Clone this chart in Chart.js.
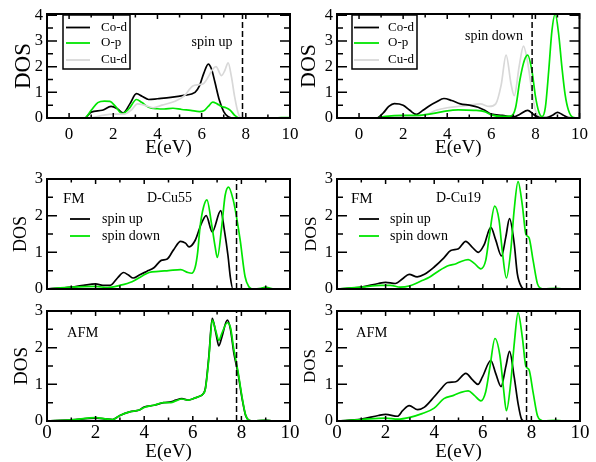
<!DOCTYPE html>
<html>
<head>
<meta charset="utf-8">
<script src="https://cdn.jsdelivr.net/npm/chart.js@4.4.0/dist/chart.umd.min.js"></script>
<style>
html, body { margin: 0; padding: 0; background: #fff; }
#wrap { position: relative; width: 596px; height: 462px; }
#wrap canvas { position: absolute; left: 0; top: 0; }
</style>
</head>
<body>
<div id="wrap">
  <canvas id="p1" width="596" height="462"></canvas>
  <canvas id="p2" width="596" height="462"></canvas>
  <canvas id="p3" width="596" height="462"></canvas>
  <canvas id="p4" width="596" height="462"></canvas>
  <canvas id="p5" width="596" height="462"></canvas>
  <canvas id="p6" width="596" height="462"></canvas>
</div>
<script>
// tick labels
const xTickLabels = [0, 2, 4, 6, 8, 10];
const xMinorTicks = [1, 3, 5, 7, 9];
const yTickLabelsTop = [0, 1, 2, 3, 4];
const yMinorTop = [0.5, 1.5, 2.5, 3.5];
const yTickLabels = [0, 1, 2, 3];
const yMinor = [0.5, 1.5, 2.5];

// Fermi level (dashed line)
const fermiTop = 7.85;
const fermiBottom = 7.8;

// spin up, projected DOS
const upCoE = [0, 0.7, 1.0, 1.5, 1.9, 2.2, 2.45, 2.75, 3.05, 3.3, 3.6, 4.0, 4.6, 5.2, 5.7, 5.9, 6.1, 6.3, 6.45, 6.6, 6.8, 7.0, 7.2, 7.4, 10];
const upCo = [0, 0, 0.23, 0.3, 0.45, 0.35, 0.2, 0.55, 0.95, 0.85, 0.72, 0.75, 0.8, 0.88, 1.0, 1.25, 1.75, 2.1, 1.9, 1.4, 0.7, 0.25, 0.05, 0, 0];
const upOpE = [0, 0.7, 1.0, 1.3, 1.6, 1.85, 2.1, 2.4, 2.7, 3.05, 3.3, 3.6, 4.0, 4.3, 4.7, 5.1, 5.5, 5.9, 6.1, 6.3, 6.5, 6.7, 6.9, 7.1, 7.3, 7.5, 7.7, 9.3, 9.6, 10];
const upOp = [0, 0, 0.3, 0.6, 0.66, 0.65, 0.45, 0.17, 0.35, 0.72, 0.6, 0.42, 0.36, 0.35, 0.38, 0.33, 0.3, 0.25, 0.28, 0.45, 0.62, 0.55, 0.45, 0.4, 0.3, 0.1, 0, 0, 0.02, 0.02];
const upCuE = [0, 0.9, 1.5, 2.0, 2.5, 2.8, 3.1, 3.4, 3.8, 4.2, 4.8, 5.2, 5.6, 5.9, 6.1, 6.3, 6.5, 6.65, 6.9, 7.05, 7.2, 7.35, 7.5, 7.65, 7.8, 10];
const upCu = [0, 0, 0.1, 0.15, 0.15, 0.3, 0.55, 0.5, 0.4, 0.5, 0.65, 0.85, 1.25, 1.3, 1.35, 1.6, 1.9, 2.0, 1.65, 1.85, 2.15, 1.6, 0.8, 0.2, 0, 0];

// spin down, projected DOS
const dnCoE = [0, 0.8, 1.1, 1.35, 1.6, 2.0, 2.3, 2.6, 2.9, 3.2, 3.5, 3.85, 4.2, 4.6, 5.0, 5.4, 5.7, 6.0, 6.5, 7.0, 7.3, 7.65, 7.9, 8.2, 8.5, 8.8, 9.0, 9.25, 9.5, 10];
const dnCo = [0, 0, 0.2, 0.45, 0.56, 0.5, 0.3, 0.14, 0.3, 0.48, 0.62, 0.76, 0.68, 0.55, 0.5, 0.42, 0.3, 0.15, 0.1, 0.04, 0.15, 0.3, 0.15, 0.02, 0.02, 0.12, 0.22, 0.12, 0.02, 0];
const dnOpE = [0, 0.8, 1.2, 2.0, 2.6, 3.2, 3.8, 4.5, 5.2, 5.7, 6.0, 6.5, 6.9, 7.1, 7.3, 7.5, 7.65, 7.85, 8.0, 8.15, 8.3, 8.45, 8.6, 8.75, 8.9, 9.05, 9.2, 9.35, 9.5, 9.7, 10];
const dnOp = [0, 0, 0.06, 0.1, 0.1, 0.15, 0.25, 0.32, 0.3, 0.25, 0.12, 0.06, 0.08, 0.4, 1.5, 2.25, 2.45, 1.8, 0.85, 0.25, 0.05, 0.4, 1.8, 3.4, 4.05, 3.3, 2.0, 0.9, 0.3, 0.03, 0];
const dnCuE = [0, 1.0, 2.0, 3.0, 3.5, 4.0, 4.5, 5.0, 5.5, 5.9, 6.2, 6.45, 6.67, 6.9, 7.04, 7.27, 7.46, 7.64, 7.85, 8.0, 8.2, 8.4, 10];
const dnCu = [0, 0, 0.05, 0.12, 0.3, 0.4, 0.45, 0.5, 0.55, 0.45, 0.55, 1.3, 2.45, 1.3, 0.87, 2.05, 2.8, 2.2, 1.0, 0.3, 0.03, 0, 0];

// FM, D-Cu55
const cu55UpE = [0, 1.0, 1.5, 2.0, 2.3, 2.6, 2.9, 3.15, 3.35, 3.55, 3.8, 4.1, 4.4, 4.7, 4.95, 5.2, 5.5, 5.7, 5.85, 6.1, 6.35, 6.55, 6.8, 7.15, 7.3, 7.45, 7.55, 7.65, 10];
const cu55Up = [0, 0.05, 0.1, 0.14, 0.1, 0.1, 0.3, 0.45, 0.38, 0.3, 0.38, 0.48, 0.58, 0.78, 0.82, 1.06, 1.3, 1.25, 1.15, 1.33, 1.78, 2.0, 1.56, 2.14, 1.6, 0.9, 0.3, 0, 0];
const cu55DnE = [0, 1.0, 2.0, 2.5, 3.0, 3.5, 3.9, 4.2, 4.6, 5.0, 5.5, 5.8, 5.95, 6.1, 6.2, 6.3, 6.44, 6.58, 6.78, 6.92, 7.01, 7.19, 7.33, 7.47, 7.67, 7.8, 7.95, 8.15, 8.3, 8.5, 8.8, 9.0, 9.2, 9.4, 10];
const cu55Dn = [0, 0.05, 0.07, 0.04, 0.1, 0.2, 0.35, 0.45, 0.48, 0.5, 0.53, 0.45, 0.43, 0.6, 1.0, 1.7, 2.23, 2.43, 1.74, 1.15, 0.86, 1.7, 2.55, 2.78, 2.41, 1.96, 1.33, 0.34, 0.07, 0, 0.02, 0.05, 0.02, 0, 0];

// FM, D-Cu19
const cu19UpE = [0, 1.0, 1.7, 2.0, 2.4, 2.7, 2.97, 3.3, 3.6, 4.0, 4.4, 4.68, 5.0, 5.3, 5.55, 5.82, 6.05, 6.33, 6.53, 6.77, 6.95, 7.1, 7.29, 7.42, 7.6, 7.7, 10];
const cu19Up = [0, 0.05, 0.15, 0.18, 0.15, 0.28, 0.4, 0.33, 0.4, 0.6, 0.85, 1.05, 1.1, 1.3, 1.15, 1.0, 1.2, 1.68, 1.34, 0.9, 1.43, 1.92, 1.25, 0.42, 0.05, 0, 0];
const cu19DnE = [0, 1.0, 1.8, 2.2, 2.6, 3.0, 3.5, 3.8, 4.2, 4.6, 4.9, 5.1, 5.4, 5.65, 5.92, 6.12, 6.26, 6.49, 6.67, 6.8, 6.97, 7.15, 7.29, 7.45, 7.63, 7.77, 7.9, 8.07, 8.25, 8.38, 8.5, 9.0, 9.3, 10];
const cu19Dn = [0, 0.05, 0.1, 0.1, 0.05, 0.09, 0.23, 0.32, 0.5, 0.64, 0.69, 0.75, 0.8, 0.7, 0.55, 0.78, 1.4, 2.26, 1.87, 1.05, 0.3, 1.05, 2.15, 2.93, 2.27, 1.5, 1.4, 0.78, 0.14, 0.02, 0, 0.02, 0, 0];

// AFM, D-Cu55
const afm55E = [0, 1.0, 2.0, 2.4, 2.7, 3.0, 3.4, 3.8, 4.0, 4.4, 4.8, 5.1, 5.3, 5.55, 5.8, 6.1, 6.3, 6.4, 6.52, 6.66, 6.8, 6.95, 7.07, 7.2, 7.42, 7.55, 7.69, 7.86, 8.04, 8.17, 8.31, 8.5, 9.0, 9.3, 10];
const afm55Up = [0, 0.03, 0.08, 0.06, 0.04, 0.15, 0.25, 0.3, 0.38, 0.43, 0.5, 0.52, 0.57, 0.61, 0.57, 0.63, 0.68, 0.72, 0.9, 1.76, 2.8, 2.4, 2.05, 2.3, 2.75, 2.5, 1.85, 1.3, 0.57, 0.16, 0.02, 0, 0.02, 0, 0];
const afm55Dn = [0, 0.03, 0.09, 0.06, 0.04, 0.15, 0.25, 0.3, 0.37, 0.43, 0.5, 0.5, 0.55, 0.6, 0.57, 0.63, 0.68, 0.72, 0.88, 1.7, 2.75, 2.45, 2.2, 2.4, 2.68, 2.55, 1.95, 1.35, 0.6, 0.17, 0.02, 0, 0.02, 0, 0];

// AFM, D-Cu19
const afm19UpE = [0, 1.0, 1.7, 2.0, 2.49, 2.7, 2.97, 3.32, 3.6, 4.0, 4.3, 4.55, 4.89, 5.3, 5.58, 5.8, 5.99, 6.33, 6.53, 6.75, 6.95, 7.1, 7.29, 7.45, 7.6, 7.7, 10];
const afm19Up = [0, 0.05, 0.15, 0.18, 0.13, 0.28, 0.42, 0.31, 0.38, 0.66, 0.89, 1.05, 1.07, 1.3, 1.12, 1.0, 1.21, 1.65, 1.3, 0.94, 1.49, 1.9, 1.21, 0.48, 0.04, 0, 0];
const afm19DnE = [0, 1.0, 2.0, 2.5, 3.0, 3.5, 4.0, 4.4, 4.8, 5.1, 5.4, 5.65, 5.92, 6.12, 6.3, 6.5, 6.7, 6.85, 6.97, 7.15, 7.3, 7.45, 7.63, 7.77, 7.9, 8.07, 8.25, 8.4, 8.5, 9.0, 9.3, 10];
const afm19Dn = [0, 0.04, 0.08, 0.05, 0.1, 0.2, 0.35, 0.61, 0.7, 0.78, 0.82, 0.7, 0.55, 0.8, 1.5, 2.25, 1.8, 0.9, 0.28, 1.05, 2.15, 2.95, 2.27, 1.5, 1.4, 0.78, 0.14, 0.02, 0, 0.02, 0, 0];

const SERIF = "'Liberation Serif', 'Times New Roman', serif";
const GREEN = '#00e600';
const GRAY = '#d8d8d8';

const pts = (xs, ys) => xs.map((x, i) => ({ x: x, y: ys[i] }));

const curve = (xs, ys, color, order) => ({
    data: pts(xs, ys),
    borderColor: color,
    borderWidth: 1.7,
    pointRadius: 0,
    showLine: true,
    cubicInterpolationMode: 'monotone',
    order: order
});

const fermiLine = (e, top) => ({
    data: [{ x: e, y: 0 }, { x: e, y: top }],
    borderColor: '#000',
    borderWidth: 1.5,
    borderDash: [6, 3],
    pointRadius: 0,
    showLine: true,
    order: 0
});

// frame, inward ticks, labels and legend, xmgrace style
const frameTicks = {
    id: 'frameTicks',
    afterDatasetsDraw(chart, args, o) {
        const ctx = chart.ctx;
        const a = chart.chartArea;
        const x = chart.scales.x, y = chart.scales.y;
        ctx.save();
        ctx.strokeStyle = '#000';
        ctx.lineWidth = 1.5;
        ctx.beginPath();
        const xt = (vals, len) => vals.forEach(v => {
            const px = x.getPixelForValue(v);
            ctx.moveTo(px, a.bottom); ctx.lineTo(px, a.bottom - len);
            ctx.moveTo(px, a.top); ctx.lineTo(px, a.top + len);
        });
        const yt = (vals, len) => vals.forEach(v => {
            const py = y.getPixelForValue(v);
            ctx.moveTo(a.left, py); ctx.lineTo(a.left + len, py);
            ctx.moveTo(a.right, py); ctx.lineTo(a.right - len, py);
        });
        xt(xTickLabels, 5);
        xt(xMinorTicks, 3.5);
        yt(o.yMajor, 10);
        yt(o.yMinor, 6);
        ctx.stroke();
        ctx.lineWidth = 2;
        ctx.strokeRect(a.left, a.top, a.right - a.left, a.bottom - a.top);

        ctx.fillStyle = '#000';
        ctx.textBaseline = 'middle';
        (o.texts || []).forEach(t => {
            ctx.font = t.size + 'px ' + SERIF;
            ctx.textAlign = t.align || 'left';
            ctx.fillText(t.text, t.x, t.y);
        });
        if (o.legend) {
            const L = o.legend;
            if (L.box) {
                ctx.lineWidth = 1.5;
                ctx.strokeStyle = '#000';
                ctx.strokeRect(L.box[0], L.box[1], L.box[2], L.box[3]);
            }
            L.items.forEach(it => {
                ctx.strokeStyle = it.color;
                ctx.lineWidth = 1.8;
                ctx.beginPath();
                ctx.moveTo(L.x1, it.y);
                ctx.lineTo(L.x2, it.y);
                ctx.stroke();
                ctx.font = L.size + 'px ' + SERIF;
                ctx.textAlign = 'left';
                ctx.fillStyle = '#000';
                ctx.fillText(it.label, L.tx, it.y);
            });
        }
        ctx.restore();
    }
};

function makePanel(id, p) {
    const [l, t, r, b] = p.box;
    const padLeft = p.yTitleX - p.yTitleSize / 2;
    return new Chart(document.getElementById(id), {
        type: 'scatter',
        data: { datasets: p.datasets },
        options: {
            responsive: false,
            animation: false,
            events: [],
            layout: { padding: { left: padLeft, top: t, right: 596 - r, bottom: 462 - b - p.xH } },
            scales: {
                x: {
                    type: 'linear', min: p.xMin, max: 10,
                    grid: { display: false, drawTicks: false },
                    border: { display: false },
                    afterBuildTicks: s => { s.ticks = xTickLabels.map(v => ({ value: v })); },
                    afterFit: s => { s.height = p.xH; },
                    ticks: { display: p.showX, padding: p.xPad, color: '#000', maxRotation: 0, autoSkip: false,
                             font: { family: SERIF, size: p.xTickSize, lineHeight: 1 } },
                    title: { display: p.showX, text: 'E(eV)', padding: 0, color: '#000',
                             font: { family: SERIF, size: 19, lineHeight: 1 } }
                },
                y: {
                    type: 'linear', min: 0, max: p.yMax,
                    grid: { display: false, drawTicks: false },
                    border: { display: false },
                    afterBuildTicks: s => { s.ticks = p.yMajor.map(v => ({ value: v })); },
                    afterFit: s => { s.width = l - padLeft; },
                    ticks: { padding: 4, color: '#000', autoSkip: false,
                             font: { family: SERIF, size: 16.5, lineHeight: 1 } },
                    title: { display: true, text: 'DOS', padding: 0, color: '#000',
                             font: { family: SERIF, size: p.yTitleSize, lineHeight: 1 } }
                }
            },
            plugins: {
                legend: { display: false },
                tooltip: { enabled: false },
                frameTicks: { yMajor: p.yMajor, yMinor: p.yMinor, texts: p.texts, legend: p.legend }
            }
        },
        plugins: [frameTicks]
    });
}

makePanel('p1', {
    box: [47, 14, 290, 118], xMin: -1, yMax: 4.05, yMajor: yTickLabelsTop, yMinor: yMinorTop,
    showX: true, xH: 40, xTickSize: 17, xPad: 8, yTitleSize: 23, yTitleX: 23.5,
    datasets: [curve(upCuE, upCu, GRAY, 1), curve(upOpE, upOp, GREEN, 2), curve(upCoE, upCo, '#000', 3), fermiLine(fermiTop, 4.05)],
    texts: [{ text: 'spin up', x: 212, y: 42, size: 14, align: 'center' }],
    legend: { box: [63, 15, 67, 54], x1: 66, x2: 90, tx: 101, size: 13,
              items: [{ label: 'Co-d', color: '#000', y: 27.5 }, { label: 'O-p', color: GREEN, y: 43 }, { label: 'Cu-d', color: GRAY, y: 60 }] }
});

makePanel('p2', {
    box: [337, 14, 580, 118], xMin: -1, yMax: 4.05, yMajor: yTickLabelsTop, yMinor: yMinorTop,
    showX: true, xH: 40, xTickSize: 17, xPad: 8, yTitleSize: 22, yTitleX: 309.5,
    datasets: [curve(dnCuE, dnCu, GRAY, 3), curve(dnOpE, dnOp, GREEN, 1), curve(dnCoE, dnCo, '#000', 2), fermiLine(fermiTop, 4.05)],
    texts: [{ text: 'spin down', x: 494, y: 36, size: 14, align: 'center' }],
    legend: { box: [352, 15, 65, 54], x1: 354, x2: 379, tx: 388, size: 13,
              items: [{ label: 'Co-d', color: '#000', y: 27.5 }, { label: 'O-p', color: GREEN, y: 43 }, { label: 'Cu-d', color: GRAY, y: 60 }] }
});

makePanel('p3', {
    box: [47, 179, 290, 289], xMin: 0, yMax: 3, yMajor: yTickLabels, yMinor: yMinor,
    showX: false, xH: 0, xTickSize: 17, xPad: 4, yTitleSize: 18, yTitleX: 21,
    datasets: [curve(cu55DnE, cu55Dn, GREEN, 1), curve(cu55UpE, cu55Up, '#000', 2), fermiLine(fermiBottom, 3)],
    texts: [{ text: 'FM', x: 63, y: 199, size: 15 }, { text: 'D-Cu55', x: 169.5, y: 198, size: 14, align: 'center' }],
    legend: { x1: 70, x2: 90, tx: 102, size: 14,
              items: [{ label: 'spin up', color: '#000', y: 219 }, { label: 'spin down', color: GREEN, y: 236 }] }
});

makePanel('p4', {
    box: [337, 179, 580, 289], xMin: 0, yMax: 3, yMajor: yTickLabels, yMinor: yMinor,
    showX: false, xH: 0, xTickSize: 17, xPad: 4, yTitleSize: 17.5, yTitleX: 311,
    datasets: [curve(cu19DnE, cu19Dn, GREEN, 1), curve(cu19UpE, cu19Up, '#000', 2), fermiLine(fermiBottom, 3)],
    texts: [{ text: 'FM', x: 351, y: 199, size: 15 }, { text: 'D-Cu19', x: 458.5, y: 198, size: 14, align: 'center' }],
    legend: { x1: 359, x2: 379, tx: 390, size: 14,
              items: [{ label: 'spin up', color: '#000', y: 219 }, { label: 'spin down', color: GREEN, y: 236 }] }
});

makePanel('p5', {
    box: [47, 311, 290, 421], xMin: 0, yMax: 3, yMajor: yTickLabels, yMinor: yMinor,
    showX: true, xH: 40.5, xTickSize: 19, xPad: 2.5, yTitleSize: 19, yTitleX: 21.7,
    datasets: [curve(afm55E, afm55Dn, GREEN, 1), curve(afm55E, afm55Up, '#000', 2), fermiLine(fermiBottom, 3)],
    texts: [{ text: 'AFM', x: 67, y: 333, size: 14.5 }]
});

makePanel('p6', {
    box: [337, 311, 580, 421], xMin: 0, yMax: 3, yMajor: yTickLabels, yMinor: yMinor,
    showX: true, xH: 40.5, xTickSize: 19, xPad: 2.5, yTitleSize: 17, yTitleX: 311,
    datasets: [curve(afm19DnE, afm19Dn, GREEN, 1), curve(afm19UpE, afm19Up, '#000', 2), fermiLine(fermiBottom, 3)],
    texts: [{ text: 'AFM', x: 356, y: 333, size: 14.5 }]
});
</script>
</body>
</html>
